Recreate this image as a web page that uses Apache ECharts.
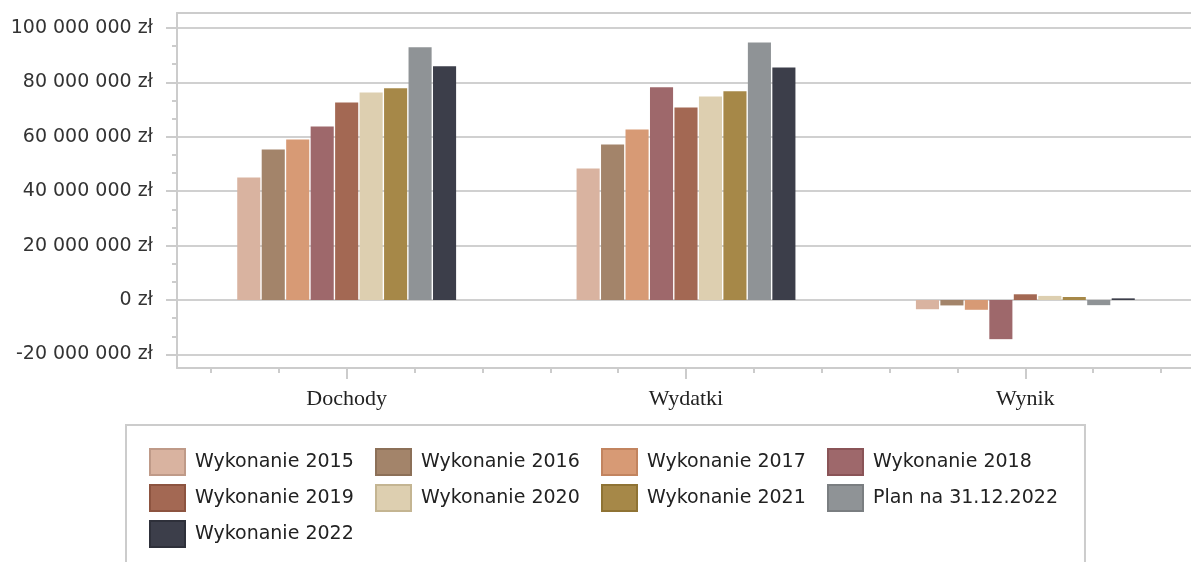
<!DOCTYPE html>
<html>
<head>
<meta charset="utf-8">
<script src="https://cdn.jsdelivr.net/npm/echarts@6/dist/echarts.min.js"></script>
<style>
html, body { margin: 0; padding: 0; background: #fff; }
#chart { width: 1191px; height: 562px; }
</style>
</head>
<body>
<div id="chart"></div>
<script>
var categories = ['Dochody', 'Wydatki', 'Wynik'];
var names = ['Wykonanie 2015', 'Wykonanie 2016', 'Wykonanie 2017', 'Wykonanie 2018',
	'Wykonanie 2019', 'Wykonanie 2020', 'Wykonanie 2021', 'Plan na 31.12.2022', 'Wykonanie 2022'];

// kwoty w zł: Dochody, Wydatki, Wynik
var w2015 = [45000000, 48300000, -3400000];
var w2016 = [55300000, 57200000, -2000000];
var w2017 = [59000000, 62700000, -3600000];
var w2018 = [63800000, 78200000, -14400000];
var w2019 = [72600000, 70800000, 2100000];
var w2020 = [76300000, 74800000, 1500000];
var w2021 = [77800000, 76700000, 1100000];
var plan2022 = [92900000, 94700000, -1900000];
var w2022 = [85900000, 85500000, 600000];
var values = [w2015, w2016, w2017, w2018, w2019, w2020, w2021, plan2022, w2022];

var yTicks = [-20000000, 0, 20000000, 40000000, 60000000, 80000000, 100000000];

var colors = ['#d9b3a0', '#a3846a', '#d79a75', '#9e686b', '#a36853', '#ddcfb0', '#a68848', '#8f9396', '#3c3e4a'];
var borders = ['#bf9a88', '#8c7058', '#c2845f', '#8a5457', '#8d5440', '#c4b592', '#8f7334', '#7a7e81', '#2e303a'];

// małe kreski co 1/3 przedziału
var minorTicks = [];
for (var i = 0; i < yTicks.length - 1; i++) {
	var step = (yTicks[i + 1] - yTicks[i]) / 3;
	minorTicks.push(yTicks[i] + step, yTicks[i] + 2 * step);
}

function fmt(v) {
	var s = String(Math.abs(v)).replace(/\B(?=(\d{3})+(?!\d))/g, ' ');
	return (v < 0 ? '-' : '') + s + ' zł';
}

function frame() {
	return { show: true, onZero: false, lineStyle: { color: '#cccccc', width: 2 } };
}

var chart = echarts.init(document.getElementById('chart'));

var series = names.map(function (n, i) {
	return {
		name: n,
		type: 'bar',
		data: values[i],
		barGap: '6%',
		barCategoryGap: '35.5%',
		itemStyle: { color: colors[i] }
	};
});

chart.setOption({
	animation: false,
	grid: {
		left: 177,
		right: -4,
		top: 13,
		bottom: 194,
		outerBoundsMode: 'none'
	},
	legend: {
		data: names.map(function (n, i) {
			return { name: n, itemStyle: { borderColor: borders[i], borderWidth: 2 } };
		}),
		icon: 'rect',
		left: 126,
		top: 425,
		width: 1000,
		itemWidth: 35,
		itemHeight: 26,
		itemGap: 0,
		padding: [19, 27, 40, 23],
		borderColor: '#cccccc',
		borderWidth: 2,
		textStyle: {
			fontFamily: 'DejaVu Sans',
			fontSize: 19,
			color: '#222',
			width: 180,
			padding: [0, 0, 0, 5],
			lineHeight: 36
		}
	},
	xAxis: [{
		type: 'category',
		data: categories,
		position: 'bottom',
		axisLine: frame(),
		axisTick: { show: true, alignWithLabel: true, interval: 0, length: 11, lineStyle: { color: '#cccccc', width: 2 } },
		axisLabel: { fontFamily: 'Liberation Serif', fontSize: 22, color: '#222', margin: 20 }
	}, {
		type: 'category',
		data: ['', '', '', '', '', '', '', '', '', '', '', '', '', '', ''],
		position: 'bottom',
		axisLine: { show: false, onZero: false },
		axisTick: { show: true, alignWithLabel: true, interval: 0, length: 5, lineStyle: { color: '#cccccc', width: 2 } },
		axisLabel: { show: false },
		splitLine: { show: false }
	}, {
		type: 'category',
		data: categories,
		position: 'top',
		axisLine: frame(),
		axisTick: { show: false },
		axisLabel: { show: false },
		splitLine: { show: false }
	}],
	yAxis: [{
		type: 'value',
		min: -25000000,
		max: 105500000,
		position: 'left',
		axisLine: frame(),
		axisTick: { show: true, customValues: yTicks, length: 11, lineStyle: { color: '#cccccc', width: 2 } },
		axisLabel: {
			customValues: yTicks,
			formatter: fmt,
			margin: 24,
			fontFamily: 'DejaVu Sans',
			fontSize: 19,
			color: '#333'
		},
		splitLine: { show: true, lineStyle: { color: '#d0d0d0', width: 2 } }
	}, {
		type: 'value',
		min: -25000000,
		max: 105500000,
		position: 'left',
		axisLine: { show: false, onZero: false },
		axisTick: { show: true, customValues: minorTicks, length: 5, lineStyle: { color: '#cccccc', width: 2 } },
		axisLabel: { show: false },
		splitLine: { show: false }
	}],
	series: series
});
window.onresize = chart.resize;
</script>
</body>
</html>
